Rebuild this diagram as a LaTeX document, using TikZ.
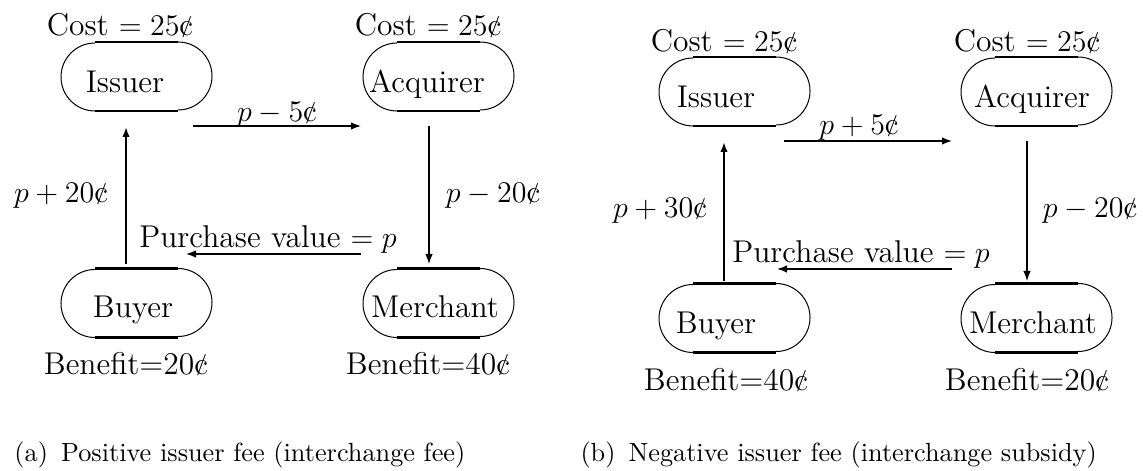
\documentclass[tikz,border=0pt]{standalone}
\usetikzlibrary{arrows.meta}
\newcommand\mycent{\makebox[0pt][l]{\hspace{0.75pt}\raisebox{1.5pt}{\fontsize{8.6}{10}\selectfont/}}c}
\begin{document}
\begin{tikzpicture}[x=0.4pt,y=-0.4pt,
  lbl/.style={inner sep=0pt, anchor=base, font=\fontsize{12.6}{15}\selectfont},
  captext/.style={inner sep=0pt, anchor=base west, font=\fontsize{10.5}{13}\selectfont},
  stadbox/.style={draw=none, inner sep=0pt, minimum width=60.4pt, minimum height=27.2pt},
  edgeline/.style={line width=1.1pt},
  arcline/.style={line width=0.4pt},
  flow/.style={-{Latex[length=4pt,width=3pt]}, line width=0.6pt},
  flowthick/.style={-{Latex[length=4pt,width=3pt]}, line width=0.8pt},
  flowthin/.style={-{Latex[length=4pt,width=3pt]}, line width=0.5pt}]
\useasboundingbox (0,0) rectangle (1143,471);
\newcommand\stadoutline[1]{%
  \draw[edgeline] ([xshift=-16.6pt]#1.north) -- ([xshift=16.6pt]#1.north);
  \draw[edgeline] ([xshift=-16.6pt]#1.south) -- ([xshift=16.6pt]#1.south);
  \draw[arcline] ([xshift=16.6pt]#1.north) arc[start angle=90,end angle=-90,radius=13.6pt];
  \draw[arcline] ([xshift=-16.6pt]#1.south) arc[start angle=270,end angle=90,radius=13.6pt];
}
% ---------- panel (a) ----------
\node[stadbox] (issA) at (136.5,76.5) {};
\node[stadbox] (acqA) at (438.5,76.5) {};
\node[stadbox] (buyA) at (136.5,303) {};
\node[stadbox] (merA) at (438.5,303) {};
\stadoutline{issA}\stadoutline{acqA}\stadoutline{buyA}\stadoutline{merA}
\node[lbl] (issAt) at (125,93) {Issuer};
\node[lbl] (acqAt) at (427,93) {Acquirer};
\node[lbl] (buyAt) at (133,317) {Buyer};
\node[lbl] (merAt) at (435,317) {Merchant};
\node[lbl] (costIA) at (120,36) {Cost $=25$\mycent};
\node[lbl] (costAA) at (428,36) {Cost $=25$\mycent};
\node[lbl] (benBA) at (126,374) {Benefit=20\mycent};
\node[lbl] (benMA) at (428,374) {Benefit=40\mycent};
\node[lbl] (feeIAA) at (277,122) {$p-5$\mycent};
\node[lbl] (feeBIA) at (61,203) {$p+20$\mycent};
\node[lbl] (feeAMA) at (493,203) {$p-20$\mycent};
\node[lbl] (purA) at (268,248) {Purchase value $=p$};
\node[captext] (capA) at (14,461) {(a)\enspace Positive issuer fee (interchange fee)};
\coordinate (a1) at (193,126); \coordinate (a2) at (361,126);
\coordinate (a3) at (429,126); \coordinate (a4) at (429,264);
\coordinate (a5) at (361,254); \coordinate (a6) at (186,254);
\coordinate (a7) at (126,264); \coordinate (a8) at (126,127);
\draw[flow] (a1) -- (a2);
\draw[flowthin] (a3) -- (a4);
\draw[flow] (a5) -- (a6);
\draw[flowthick] (a7) -- (a8);
% ---------- panel (b) ----------
\node[stadbox] (issB) at (734.5,91.5) {};
\node[stadbox] (acqB) at (1036.5,91.5) {};
\node[stadbox] (buyB) at (734.5,318) {};
\node[stadbox] (merB) at (1036.5,318) {};
\stadoutline{issB}\stadoutline{acqB}\stadoutline{buyB}\stadoutline{merB}
\node[lbl] (issBt) at (716,108) {Issuer};
\node[lbl] (acqBt) at (1032,108) {Acquirer};
\node[lbl] (buyBt) at (716,333) {Buyer};
\node[lbl] (merBt) at (1033,333) {Merchant};
\node[lbl] (costIB) at (724,52) {Cost $=25$\mycent};
\node[lbl] (costAB) at (1027,52) {Cost $=25$\mycent};
\node[lbl] (benBB) at (726,390) {Benefit=40\mycent};
\node[lbl] (benMB) at (1027,390) {Benefit=20\mycent};
\node[lbl] (feeIAB) at (859,135) {$p+5$\mycent};
\node[lbl] (feeBIB) at (660,218) {$p+30$\mycent};
\node[lbl] (feeAMB) at (1090,218) {$p-20$\mycent};
\node[lbl] (purB) at (861,263) {Purchase value $=p$};
\node[captext] (capB) at (580,461) {(b)\enspace Negative issuer fee (interchange subsidy)};
\coordinate (b1) at (784,141); \coordinate (b2) at (952,141);
\coordinate (b3) at (1027,141); \coordinate (b4) at (1027,281);
\coordinate (b5) at (952,269); \coordinate (b6) at (777,269);
\coordinate (b7) at (724,281); \coordinate (b8) at (724,142);
\draw[flow] (b1) -- (b2);
\draw[flowthin] (b3) -- (b4);
\draw[flow] (b5) -- (b6);
\draw[flowthick] (b7) -- (b8);
\end{tikzpicture}
\end{document}
